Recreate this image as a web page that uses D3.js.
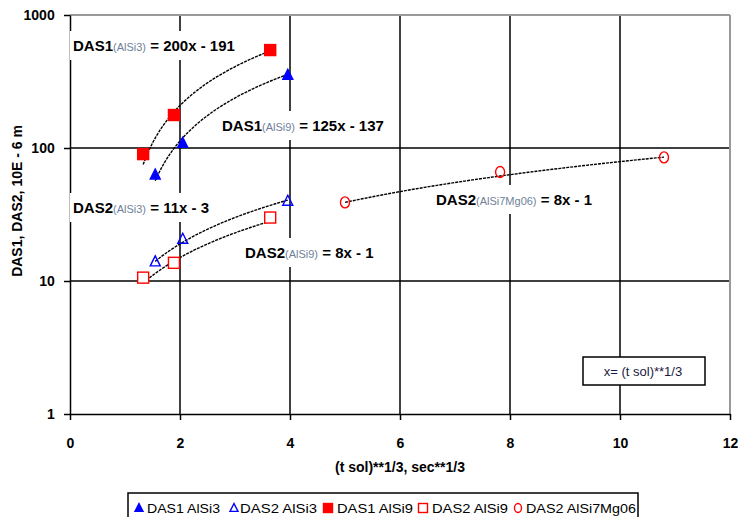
<!DOCTYPE html>
<html><head><meta charset="utf-8">
<script src="https://cdn.jsdelivr.net/npm/d3@7"></script>
<style>
body{margin:0;background:#fff;}
svg{display:block;font-family:"Liberation Sans",Arial,sans-serif;}
</style></head>
<body><svg id="c" width="738" height="517"></svg>
<script>
// ---- data ----
const seriesNames = ["DAS1 AlSi3","DAS2 AlSi3","DAS1 AlSi9","DAS2 AlSi9","DAS2 AlSi7Mg06"];
const das1AlSi3X = [1.55, 2.05, 3.96];
const das1AlSi3Y = [63, 109, 354];
const das2AlSi3X = [1.55, 2.05, 3.96];
const das2AlSi3Y = [14, 20.7, 40];
const das1AlSi9X = [1.33, 1.89, 3.64];
const das1AlSi9Y = [90, 177, 545];
const das2AlSi9X = [1.33, 1.89, 3.64];
const das2AlSi9Y = [10.6, 13.7, 30];
const das2MgX = [5.0, 7.82, 10.8];
const das2MgY = [39, 66, 85];
// trendlines y = a*x + b (as printed on chart)
const trendSlope = [125, 11, 200, 8, 8];
const trendIntercept = [-137, -3, -191, -1, -1];
// equation labels
const eqHead = ["DAS1","DAS1","DAS2","DAS2","DAS2"];
const eqSub = ["(AlSi3)","(AlSi9)","(AlSi3)","(AlSi9)","(AlSi7Mg06)"];
const eqTail = [" = 200x - 191"," = 125x - 137"," = 11x - 3"," = 8x - 1"," = 8x - 1"];
const xTicks = [0,2,4,6,8,10,12];
const yTicks = [1,10,100,1000];

const xs = [das1AlSi3X, das2AlSi3X, das1AlSi9X, das2AlSi9X, das2MgX];
const ys = [das1AlSi3Y, das2AlSi3Y, das1AlSi9Y, das2AlSi9Y, das2MgY];
const colors = ["#0000ff","#0000ff","#ff0000","#ff0000","#ff0000"];
const shapes = ["triF","triO","sqF","sqO","circO"];

const svg = d3.select("#c");
const x = d3.scaleLinear().domain([0,12]).range([70,730]);
const y = d3.scaleLog().domain([1,1000]).range([414,15]);

// grid
const g = svg.append("g");
g.selectAll(".vg").data(xTicks.filter(d=>d>0 && d<12)).join("line")
  .attr("x1",d=>x(d)).attr("x2",d=>x(d)).attr("y1",y(1000)).attr("y2",y(1))
  .attr("stroke","#000").attr("stroke-width",1.5);
g.selectAll(".hg").data(yTicks.filter(d=>d>1 && d<1000)).join("line")
  .attr("x1",x(0)).attr("x2",x(12)).attr("y1",d=>y(d)).attr("y2",d=>y(d))
  .attr("stroke","#000").attr("stroke-width",1.5);
// top/right border grey
g.append("line").attr("x1",x(0)).attr("x2",x(12)).attr("y1",y(1000)).attr("y2",y(1000)).attr("stroke","#999").attr("stroke-width",2);
g.append("line").attr("x1",x(12)).attr("x2",x(12)).attr("y1",y(1000)).attr("y2",y(1)).attr("stroke","#999").attr("stroke-width",2);

// axes
const ax = svg.append("g").attr("transform",`translate(0,${y(1)})`)
  .call(d3.axisBottom(x).tickValues(xTicks).tickFormat(d3.format("d")).tickSize(6).tickSizeOuter(0));
const ay = svg.append("g").attr("transform",`translate(${x(0)},0)`)
  .call(d3.axisLeft(y).tickValues(yTicks).tickFormat(d3.format("d")).tickSize(6).tickSizeOuter(0));
[ax,ay].forEach(a=>{
  a.select(".domain").attr("stroke","#000").attr("stroke-width",1.5);
  a.selectAll(".tick line").attr("stroke","#000").attr("stroke-width",1.5);
  a.selectAll("text").attr("font-size",14).attr("font-weight","bold").attr("fill","#000")
    .attr("font-family","'Liberation Sans',Arial,sans-serif");
});
ax.selectAll("text").attr("dy","1.75em");
ay.selectAll("text").attr("dx","-0.45em");

// equation labels (white background)
const eqPos = [[73,51],[222,131],[73,213],[245,258],[436,205]];
eqHead.forEach((h,i)=>{
  const t = svg.append("text").attr("x",eqPos[i][0]).attr("y",eqPos[i][1])
    .attr("font-size",15).attr("font-weight","bold").attr("fill","#000");
  t.append("tspan").text(h);
  t.append("tspan").text(eqSub[i]).attr("font-size",11).attr("font-weight","normal").attr("fill","#6f7f99");
  t.append("tspan").text(eqTail[i]);
  const bb = t.node().getBBox();
  svg.insert("rect",function(){return t.node();})
    .attr("x",bb.x-3).attr("y",eqPos[i][1]-20).attr("width",bb.width+6).attr("height",29).attr("fill","#fff");
});

// trendlines
const line = d3.line().x(d=>x(d[0])).y(d=>y(d[1]));
xs.forEach((xv,i)=>{
  const x0 = d3.min(xv), x1 = d3.max(xv);
  const pts = d3.range(0,41).map(k=>{const xx = x0+(x1-x0)*k/40; return [xx, trendSlope[i]*xx+trendIntercept[i]];});
  svg.append("path").attr("d",line(pts)).attr("fill","none").attr("stroke","#000")
    .attr("stroke-width",1.4).attr("stroke-dasharray","3,1");
});

// markers
function marker(sel, shape, color, cx, cy, s){
  if(shape==="triF"||shape==="triO"){
    const h=s*0.95;
    sel.append("path").attr("d",`M${cx},${cy-h*0.6}L${cx+s/2},${cy+h*0.45}L${cx-s/2},${cy+h*0.45}Z`)
      .attr("fill",shape==="triF"?color:"none").attr("stroke",color).attr("stroke-width",1.4);
  } else if(shape==="sqF"||shape==="sqO"){
    sel.append("rect").attr("x",cx-s/2).attr("y",cy-s/2).attr("width",s).attr("height",s)
      .attr("fill",shape==="sqF"?color:"#fff").attr("stroke",color).attr("stroke-width",1.4);
  } else {
    sel.append("ellipse").attr("cx",cx).attr("cy",cy).attr("rx",s/2-0.5).attr("ry",s/2+0.5)
      .attr("fill","none").attr("stroke",color).attr("stroke-width",1.4);
  }
}
const mk = svg.append("g");
xs.forEach((xv,i)=>{
  xv.forEach((xx,j)=>marker(mk, shapes[i], colors[i], x(xx), y(ys[i][j]), shapes[i].startsWith("sq")?11:10));
});

// note box
svg.append("rect").attr("x",583).attr("y",357).attr("width",122).attr("height",28)
  .attr("fill","#fff").attr("stroke","#000").attr("stroke-width",1.5);
svg.append("text").attr("x",643).attr("y",376).attr("text-anchor","middle").attr("font-size",13)
  .attr("fill","#1a1a40").text("x= (t sol)**1/3");

// axis titles
svg.append("text").attr("x",x(6)).attr("y",472).attr("text-anchor","middle")
  .attr("font-size",14).attr("font-weight","bold").text("(t sol)**1/3, sec**1/3");
svg.append("text").attr("transform","translate(22,201) rotate(-90)").attr("text-anchor","middle")
  .attr("font-size",14).attr("font-weight","bold").text("DAS1, DAS2, 10E - 6 m");

// legend
const lg = svg.append("g");
lg.append("rect").attr("x",128).attr("y",493).attr("width",510).attr("height",30)
  .attr("fill","#fff").attr("stroke","#000").attr("stroke-width",1.5);
const legX = [139, 234, 328, 423, 518];
const legTextX = [147, 240, 337, 432, 526];
const legW = [73, 77, 76, 76, 110];
seriesNames.forEach((n,i)=>{
  marker(lg, shapes[i], colors[i], legX[i], 508, shapes[i].startsWith("sq")?9:8);
  lg.append("text").attr("x",legTextX[i]).attr("y",513).attr("font-size",13)
    .attr("textLength",legW[i]).attr("lengthAdjust","spacingAndGlyphs").text(n);
});
</script></body></html>
